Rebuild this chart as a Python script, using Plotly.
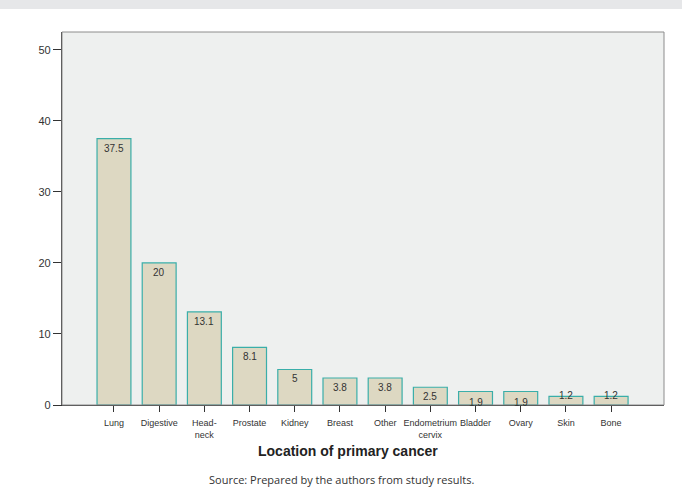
import plotly.graph_objects as go

# Primary cancer sites and their share (%)
categories = ["Lung", "Digestive", "Head-<br>neck", "Prostate", "Kidney", "Breast",
              "Other", "Endometrium<br>cervix", "Bladder", "Ovary", "Skin", "Bone"]
percentages = [37.5, 20, 13.1, 8.1, 5, 3.8, 3.8, 2.5, 1.9, 1.9, 1.2, 1.2]
value_labels = ["37.5", "20", "13.1", "8.1", "5", "3.8", "3.8", "2.5", "1.9", "1.9", "1.2", "1.2"]
y_ticks = [0, 10, 20, 30, 40, 50]

x_pos = list(range(len(categories)))

fig = go.Figure()
fig.add_trace(go.Bar(
    x=x_pos,
    y=percentages,
    width=0.75,
    marker=dict(color="#ddd8c2", line=dict(color="#3aaea9", width=1.2)),
    hoverinfo="skip",
))

# Value labels just below the top of each bar; the shortest bars carry
# their label centred on the top edge
for xp, v, lab in zip(x_pos, percentages, value_labels):
    if v < 1.5:
        anchor, shift = "middle", 1
    elif v < 2.2:
        anchor, shift = "top", -3
    else:
        anchor, shift = "top", -2
    fig.add_annotation(
        x=xp, y=v, text=lab, showarrow=False,
        yanchor=anchor, yshift=shift,
        font=dict(family="Arial", size=10, color="#333333"),
    )

# Light grey frame around the plot area
fig.add_shape(type="rect", xref="paper", yref="paper", x0=0, x1=1, y0=0, y1=1,
              line=dict(color="#8c8c8c", width=1), fillcolor="rgba(0,0,0,0)", layer="above")

# Band along the top edge of the page
fig.add_shape(type="rect", xref="paper", yref="paper", x0=-0.2, x1=1.1,
              y0=1.0617, y1=1.1, line=dict(width=0), fillcolor="#e6e7e9", layer="below")

fig.add_annotation(
    x=0.475, y=-0.124, xref="paper", yref="paper", text="<b>Location of primary cancer</b>",
    showarrow=False, yanchor="middle", font=dict(family="Arial", size=14, color="#222222"),
)
fig.add_annotation(
    x=0.465, y=-0.2, xref="paper", yref="paper",
    text="Source: Prepared by the authors from study results.",
    showarrow=False, yanchor="middle", font=dict(family="Open Sans", size=11, color="#333333"),
)

fig.update_layout(
    width=682, height=491,
    margin=dict(l=62, r=18, t=32, b=86),
    paper_bgcolor="white",
    plot_bgcolor="#eef0ef",
    showlegend=False,
    xaxis=dict(
        range=[-1.15, 12.17],
        tickmode="array", tickvals=x_pos, ticktext=categories,
        ticks="outside", ticklen=6, tickcolor="#333333", tickwidth=1,
        tickfont=dict(family="Arial", size=9, color="#333333"),
        ticklabelstandoff=3,
        showgrid=False, zeroline=False,
        showline=True, linecolor="#333333", linewidth=1.2,
        tickangle=0,
    ),
    yaxis=dict(
        range=[0, 52.5],
        tickmode="array", tickvals=y_ticks,
        ticks="outside", ticklen=8, tickcolor="#333333", tickwidth=1.2,
        tickfont=dict(family="Arial", size=11, color="#333333"),
        showgrid=False, zeroline=False,
        showline=True, linecolor="#333333", linewidth=1.2,
    ),
)

fig.write_html("out.html")
